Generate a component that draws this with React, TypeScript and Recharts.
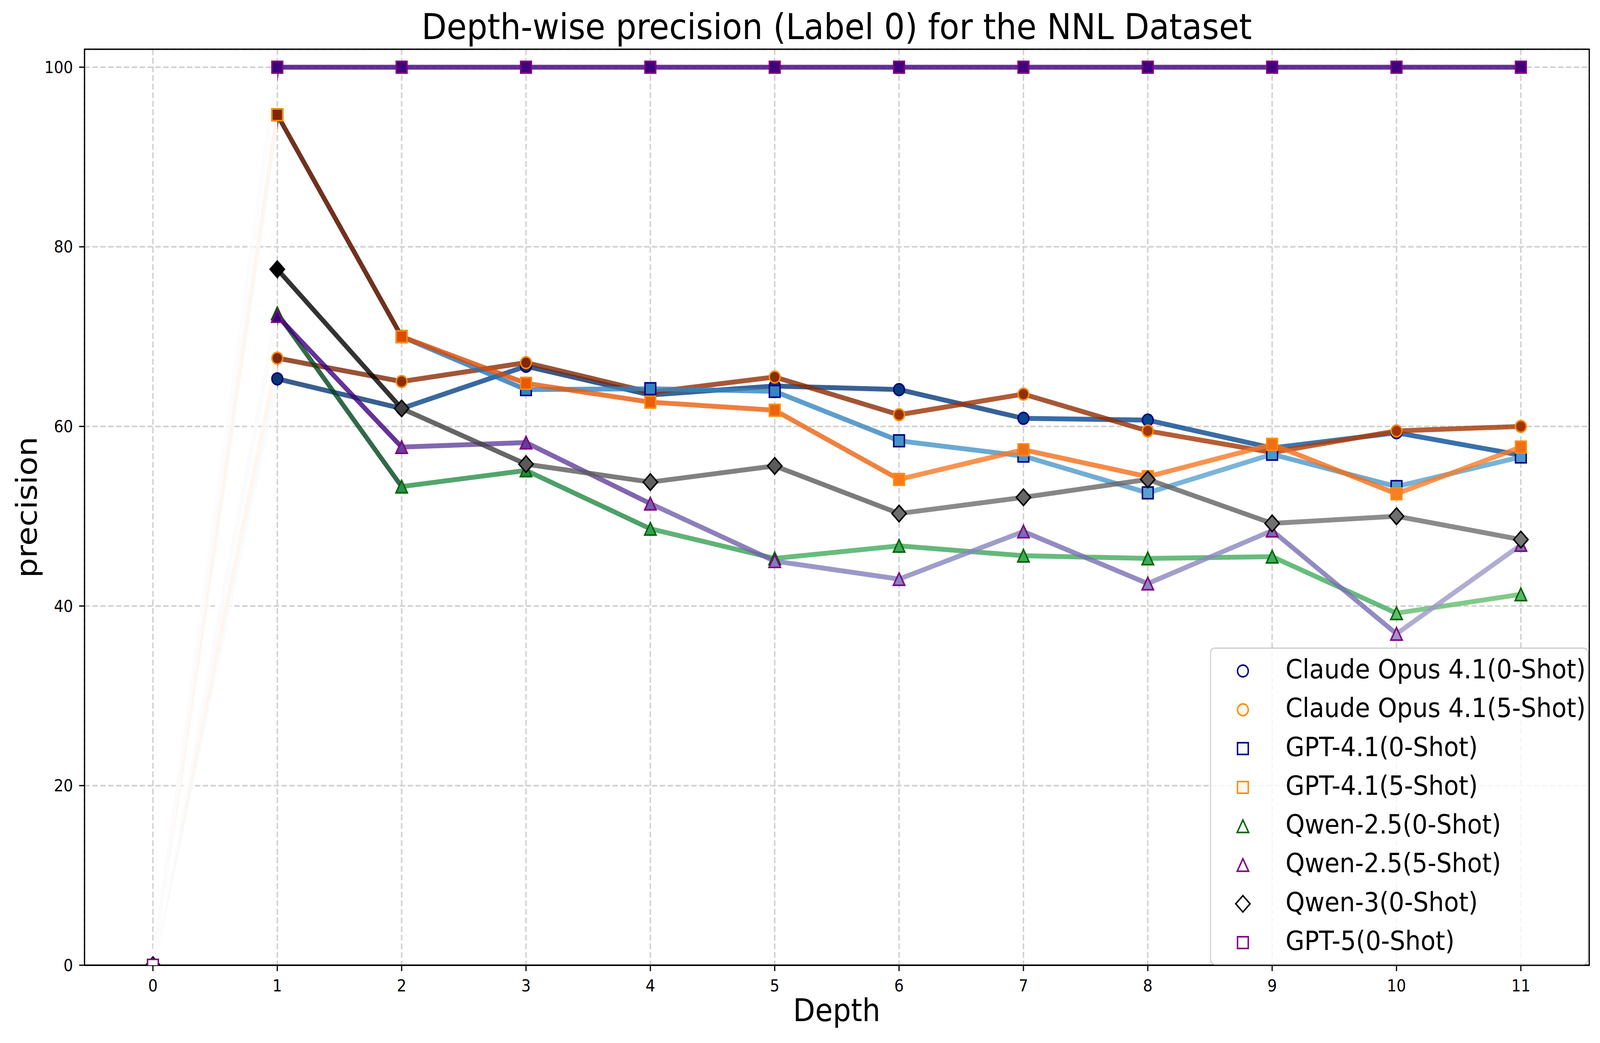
import React from "react";
import { LineChart, Line, XAxis, YAxis, CartesianGrid, Legend, ReferenceArea } from "recharts";

const FONT = '"DejaVu Sans", sans-serif';
const W = 4467;
const H = 2669;

// depth levels and precision per model
const DEPTHS = [0, 1, 2, 3, 4, 5, 6, 7, 8, 9, 10, 11];
const CLAUDE_0 = [0, 65.3, 62.0, 66.7, 63.5, 64.5, 64.1, 60.9, 60.7, 57.6, 59.3, 56.8];
const CLAUDE_5 = [0, 67.6, 65.0, 67.1, 63.8, 65.5, 61.3, 63.6, 59.5, 57.1, 59.5, 60.0];
const GPT41_0 = [0, 94.7, 70.0, 64.1, 64.2, 63.9, 58.4, 56.7, 52.6, 56.9, 53.3, 56.6];
const GPT41_5 = [0, 94.7, 70.0, 64.8, 62.7, 61.8, 54.1, 57.4, 54.4, 58.0, 52.5, 57.7];
const QWEN25_0 = [0, 72.6, 53.3, 55.1, 48.6, 45.3, 46.7, 45.6, 45.3, 45.5, 39.2, 41.3];
const QWEN25_5 = [0, 72.3, 57.7, 58.2, 51.4, 45.0, 43.0, 48.3, 42.5, 48.4, 36.9, 46.8];
const QWEN3_0 = [0, 77.5, 62.0, 55.8, 53.8, 55.6, 50.3, 52.1, 54.1, 49.2, 50.0, 47.4];
const GPT5_0 = [0, 100, 100, 100, 100, 100, 100, 100, 100, 100, 100, 100];

const Y_TICKS = [0, 20, 40, 60, 80, 100];

// colorbrewer sequential maps (as matplotlib uses them)
const BLUES = ["#f7fbff", "#deebf7", "#c6dbef", "#9ecae1", "#6baed6", "#4292c6", "#2171b5", "#08519c", "#08306b"];
const ORANGES = ["#fff5eb", "#fee6ce", "#fdd0a2", "#fdae6b", "#fd8d3c", "#f16913", "#d94801", "#a63603", "#7f2704"];
const GREENS = ["#f7fcf5", "#e5f5e0", "#c7e9c0", "#a1d99b", "#74c476", "#41ab5d", "#238b45", "#006d2c", "#00441b"];
const PURPLES = ["#fcfbfd", "#efedf5", "#dadaeb", "#bcbddc", "#9e9ac8", "#807dba", "#6a51a3", "#54278f", "#3f007d"];
const GREYS = ["#ffffff", "#f0f0f0", "#d9d9d9", "#bdbdbd", "#969696", "#737373", "#525252", "#252525", "#000000"];

function hexRgb(h: string) {
  return [parseInt(h.slice(1, 3), 16), parseInt(h.slice(3, 5), 16), parseInt(h.slice(5, 7), 16)];
}

function cmapColor(stops: string[], t: number) {
  const c = Math.max(0, Math.min(1, t)) * (stops.length - 1);
  const i = Math.min(stops.length - 2, Math.floor(c));
  const f = c - i;
  const a = hexRgb(stops[i]);
  const b = hexRgb(stops[i + 1]);
  const m = a.map((v, k) => Math.round(v + (b[k] - v) * f));
  return `rgb(${m[0]},${m[1]},${m[2]})`;
}

type MarkerKind = "circle" | "square" | "triangle" | "diamond";

const SERIES: { key: string; name: string; values: number[]; cmap: string[]; edge: string; marker: MarkerKind }[] = [
  { key: "claude0", name: "Claude Opus 4.1(0-Shot)", values: CLAUDE_0, cmap: BLUES, edge: "#000080", marker: "circle" },
  { key: "claude5", name: "Claude Opus 4.1(5-Shot)", values: CLAUDE_5, cmap: ORANGES, edge: "#ff8c00", marker: "circle" },
  { key: "gpt41_0", name: "GPT-4.1(0-Shot)", values: GPT41_0, cmap: BLUES, edge: "#000080", marker: "square" },
  { key: "gpt41_5", name: "GPT-4.1(5-Shot)", values: GPT41_5, cmap: ORANGES, edge: "#ff8c00", marker: "square" },
  { key: "qwen25_0", name: "Qwen-2.5(0-Shot)", values: QWEN25_0, cmap: GREENS, edge: "#006400", marker: "triangle" },
  { key: "qwen25_5", name: "Qwen-2.5(5-Shot)", values: QWEN25_5, cmap: PURPLES, edge: "#800080", marker: "triangle" },
  { key: "qwen3", name: "Qwen-3(0-Shot)", values: QWEN3_0, cmap: GREYS, edge: "#000000", marker: "diamond" },
  { key: "gpt5", name: "GPT-5(0-Shot)", values: GPT5_0, cmap: PURPLES, edge: "#800080", marker: "square" },
];

const rows = DEPTHS.map((d, i) => {
  const r: any = { depth: d };
  SERIES.forEach((s) => (r[s.key] = s.values[i]));
  return r;
});

function Marker({ kind, cx, cy, fill, stroke }: { kind: MarkerKind; cx: number; cy: number; fill: string; stroke: string }) {
  const common = { fill, stroke, strokeWidth: 4, strokeLinejoin: "miter" as const };
  if (kind === "circle") return <circle cx={cx} cy={cy} r={15} {...common} />;
  if (kind === "square") return <rect x={cx - 15} y={cy - 15} width={30} height={30} {...common} />;
  if (kind === "triangle")
    return <polygon points={`${cx},${cy - 16} ${cx - 16},${cy + 16} ${cx + 16},${cy + 16}`} {...common} />;
  return <polygon points={`${cx},${cy - 21} ${cx + 20},${cy} ${cx},${cy + 21} ${cx - 20},${cy}`} {...common} />;
}

function LegendBox() {
  return (
    <svg width={1057} height={812} style={{ display: "block" }}>
      <rect x={1.5} y={1.5} width={1054} height={809} rx={12} fill="rgba(255,255,255,0.8)" stroke="#cccccc" strokeWidth={3} />
      {SERIES.map((s, i) => {
        const cy = 60 + i * 99.3;
        return (
          <g key={s.key}>
            <Marker kind={s.marker} cx={92} cy={cy} fill={cmapColor(s.cmap, 0)} stroke={s.edge} />
            <text x={211} y={cy + 19} fontSize={68} fontFamily={FONT} fill="#000">
              {s.name}
            </text>
          </g>
        );
      })}
    </svg>
  );
}

export default function App() {
  const tickStyle = { fontSize: 42, fill: "#000", fontFamily: FONT };
  // the viewport can be smaller than the figure: stretch the fixed-size figure to fill it
  const vw = typeof window !== "undefined" ? window.innerWidth : W;
  const vh = typeof window !== "undefined" ? window.innerHeight : H;
  const sx = vw > 0 && vw < W ? vw / W : 1;
  const sy = vh > 0 && vh < H ? vh / H : 1;
  return (
    <div style={{ position: "absolute", left: 0, top: 0, width: W * sx, height: H * sy, overflow: "hidden", background: "#fff" }}>
      <div style={{ position: "relative", width: W, height: H, transform: `scale(${sx}, ${sy})`, transformOrigin: "0 0" }}>
        {/* per-segment colours: each segment takes the colour of its starting point */}
        <svg width={0} height={0} style={{ position: "absolute" }}>
          <defs>
            {SERIES.map((sr) => {
              const max = Math.max(...sr.values);
              const n = sr.values.length - 1;
              return (
                <linearGradient key={sr.key} id={`g-${sr.key}`} x1="0" y1="0" x2="1" y2="0">
                  {sr.values.slice(0, n).flatMap((v, i) => {
                    const c = cmapColor(sr.cmap, v / max);
                    return [
                      <stop key={`a${i}`} offset={i / n} stopColor={c} />,
                      <stop key={`b${i}`} offset={(i + 1) / n} stopColor={c} />,
                    ];
                  })}
                </linearGradient>
              );
            })}
          </defs>
        </svg>
        <LineChart width={W} height={H} data={rows} margin={{ top: 126, right: 30, bottom: 99, left: 136 }}>
          <CartesianGrid stroke="#d0d0d0" strokeDasharray="15 7" strokeWidth={4} />
          <XAxis
            dataKey="depth"
            type="number"
            domain={[-0.55, 11.55]}
            ticks={DEPTHS}
            allowDataOverflow
            height={100}
            tick={tickStyle}
            tickSize={15}
            tickMargin={22}
            tickLine={{ stroke: "#000", strokeWidth: 3.3 }}
            axisLine={{ stroke: "#000", strokeWidth: 3.3 }}
          />
          <YAxis
            type="number"
            domain={[0, 102]}
            ticks={Y_TICKS}
            allowDataOverflow
            width={100}
            tick={tickStyle}
            tickSize={15}
            tickMargin={17}
            tickLine={{ stroke: "#000", strokeWidth: 3.3 }}
            axisLine={{ stroke: "#000", strokeWidth: 3.3 }}
          />
          {SERIES.map((sr) => {
            const max = Math.max(...sr.values);
            return (
              <Line
                key={sr.key}
                type="linear"
                dataKey={sr.key}
                name={sr.name}
                stroke={`url(#g-${sr.key})`}
                strokeWidth={12.5}
                strokeOpacity={0.8}
                strokeLinejoin="round"
                activeDot={false}
                isAnimationActive={false}
                dot={(p: any) => {
                  if (p.cx == null || p.cy == null) return <g key={`${sr.key}-${p.index}`} />;
                  const v = p.payload ? p.payload[sr.key] : p.value;
                  return (
                    <g key={`${sr.key}-${p.index}`}>
                      <Marker kind={sr.marker} cx={p.cx} cy={p.cy} fill={cmapColor(sr.cmap, v / max)} stroke={sr.edge} />
                    </g>
                  );
                }}
              />
            );
          })}
          <ReferenceArea x1={-0.55} x2={11.55} y1={0} y2={102} fill="none" stroke="#000" strokeWidth={3.3} ifOverflow="visible" />
          <Legend
            layout="vertical"
            align="center"
            verticalAlign="middle"
            content={() => <LegendBox />}
            wrapperStyle={{ position: "absolute", left: 3378, top: 1657, width: 1057, height: 812 }}
          />
        </LineChart>
        <svg width={W} height={H} style={{ position: "absolute", left: 0, top: 0, pointerEvents: "none" }}>
          <text x={2336} y={100} textAnchor="middle" fontSize={91} fontFamily={FONT} fill="#000">
            Depth-wise precision (Label 0) for the NNL Dataset
          </text>
          <text x={2336} y={2613} textAnchor="middle" fontSize={80} fontFamily={FONT} fill="#000">
            Depth
          </text>
          <text transform="translate(102,1298) rotate(-90)" textAnchor="middle" fontSize={80} fontFamily={FONT} fill="#000">
            precision
          </text>
        </svg>
      </div>
    </div>
  );
}
